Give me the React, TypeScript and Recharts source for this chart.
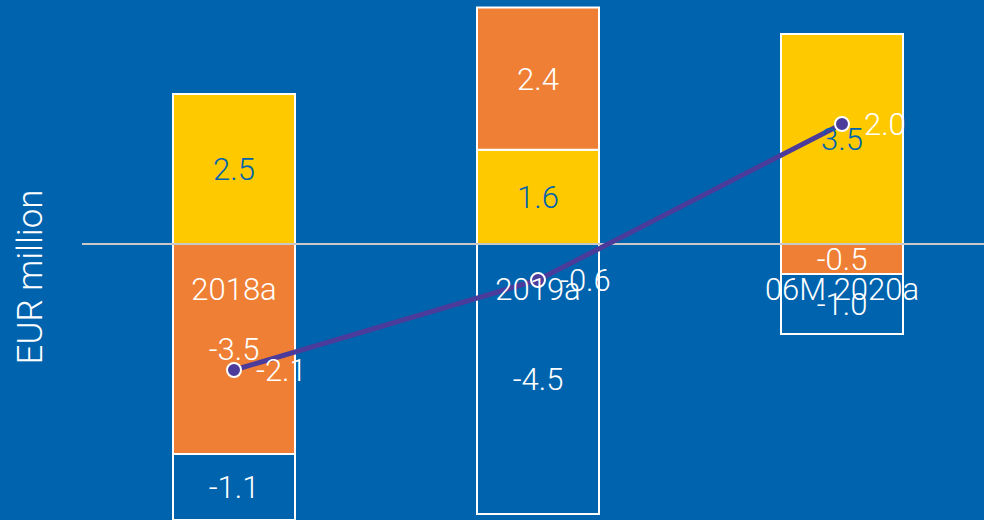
import { ComposedChart, Bar, Line, XAxis, YAxis, ReferenceLine, LabelList } from 'recharts'

const categories = ['2018a', '2019a', '06M 2020a']
const yellowValues = [2.5, 1.57, 3.5]
const orangeValues = [-3.5, 2.37, -0.5]
const blueValues = [-1.1, -4.5, -1.0]
const netValues = [-2.1, -0.6, 2.0]

const data = categories.map((category, i) => ({
  category,
  yellow: yellowValues[i],
  orange: orangeValues[i],
  blue: blueValues[i],
  net: netValues[i],
}))

const BG = '#0063AE'
const FONT = 'Roboto, "Open Sans", sans-serif'
const fmt = (v: any) => Number(v).toFixed(1)

const CategoryLabel = (props: any) => {
  const { x, y, width, height, value } = props
  const zeroY = height >= 0 ? y + height : y
  return (
    <text
      x={x + width / 2}
      y={zeroY + 45}
      textAnchor="middle"
      dominantBaseline="central"
      fill="#ffffff"
      fontSize={31}
      fontFamily={FONT}
      fontWeight={300}
    >
      {value}
    </text>
  )
}

const AxisTitle = (props: any) => {
  const { viewBox } = props
  const cx = 30
  const cy = viewBox.y + viewBox.height / 2 + 33
  return (
    <text
      x={cx}
      y={cy}
      transform={`rotate(-90, ${cx}, ${cy})`}
      textAnchor="middle"
      dominantBaseline="central"
      fill="#ffffff"
      fontSize={35}
      fontFamily={FONT}
      fontWeight={300}
    >
      EUR million
    </text>
  )
}

export default function App() {
  const labelStyle = { fontSize: 31, fontFamily: FONT, fontWeight: 300 }
  return (
    <div style={{ position: 'fixed', left: 0, top: 0, width: 984, height: 520, overflow: 'hidden', background: BG }}>
      <div style={{ position: 'absolute', left: 0, top: -56 }}>
        <ComposedChart
          width={994}
          height={600}
          data={data}
          stackOffset="sign"
          margin={{ top: 0, right: 0, bottom: 0, left: 0 }}
        >
          <XAxis dataKey="category" hide />
          <YAxis
            domain={[-5, 5]}
            width={82}
            tick={false}
            axisLine={false}
            tickLine={false}
            label={{ content: AxisTitle }}
          />
          <ReferenceLine y={0} stroke="#c8c8c8" strokeWidth={2} />
          <Bar dataKey="yellow" stackId="a" fill="#FFC900" stroke="#ffffff" strokeWidth={2} barSize={122} isAnimationActive={false}>
            <LabelList dataKey="yellow" position="center" formatter={fmt} fill={BG} style={labelStyle} />
            <LabelList dataKey="category" content={CategoryLabel} />
          </Bar>
          <Bar dataKey="orange" stackId="a" fill="#EE7F34" stroke="#ffffff" strokeWidth={2} barSize={122} isAnimationActive={false}>
            <LabelList dataKey="orange" position="center" formatter={fmt} fill="#ffffff" style={labelStyle} />
          </Bar>
          <Bar dataKey="blue" stackId="a" fill={BG} stroke="#ffffff" strokeWidth={2} barSize={122} isAnimationActive={false}>
            <LabelList dataKey="blue" position="center" formatter={fmt} fill="#ffffff" style={labelStyle} />
          </Bar>
          <Line
            dataKey="net"
            stroke="#4B3B9A"
            strokeWidth={5}
            dot={{ r: 7, fill: '#4B3B9A', stroke: '#ffffff', strokeWidth: 2 }}
            isAnimationActive={false}
          >
            <LabelList dataKey="net" position="right" offset={22} formatter={fmt} fill="#ffffff" style={labelStyle} />
          </Line>
        </ComposedChart>
      </div>
    </div>
  )
}
